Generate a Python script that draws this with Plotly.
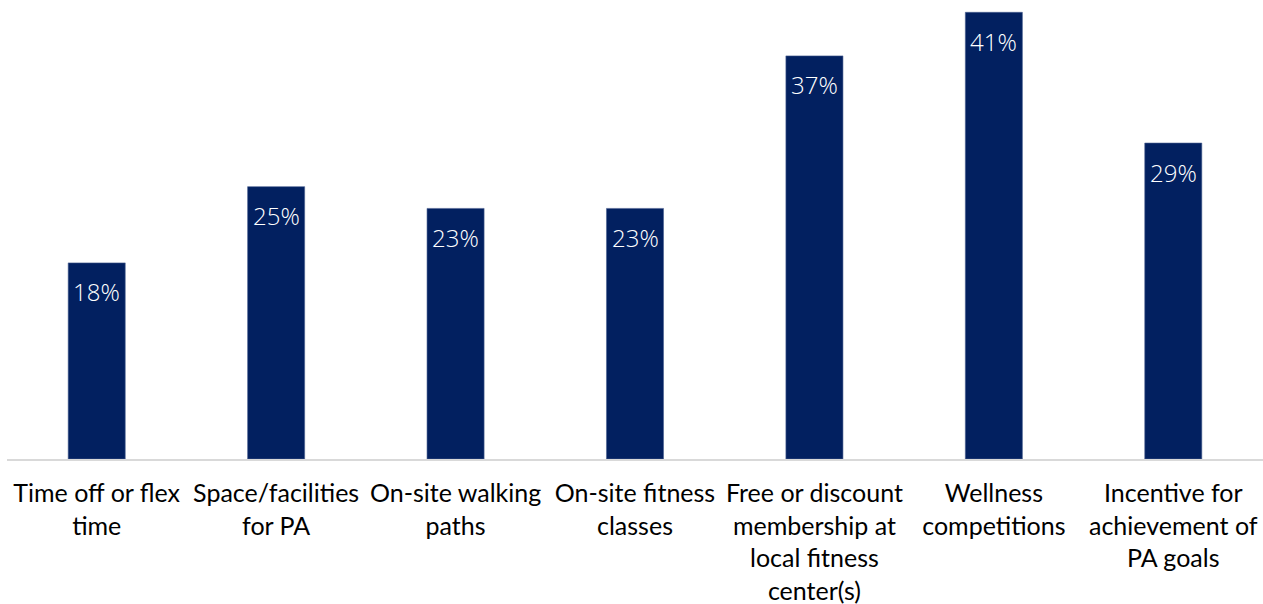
import plotly.graph_objects as go

categories = [
    "Time off or flex<br>time",
    "Space/facilities<br>for PA",
    "On-site walking<br>paths",
    "On-site fitness<br>classes",
    "Free or discount<br>membership at<br>local fitness<br>center(s)",
    "Wellness<br>competitions",
    "Incentive for<br>achievement of<br>PA goals",
]
values = [18, 25, 23, 23, 37, 41, 29]
labels = [f"{v}%" for v in values]

BAR_COLOR = "#022060"

fig = go.Figure()
fig.add_trace(go.Bar(
    x=categories,
    y=values,
    marker=dict(color=BAR_COLOR, line=dict(color="#4a6090", width=0.6)),
    hoverinfo="skip",
))

for c, v, t in zip(categories, values, labels):
    fig.add_annotation(
        x=c, y=v, text=t, showarrow=False,
        yanchor="middle", yshift=-29,
        font=dict(family="Open Sans", size=24, color="white", weight=300),
    )

fig.update_layout(
    width=1263, height=604,
    margin=dict(l=7, r=0, t=0, b=145),
    paper_bgcolor="white",
    plot_bgcolor="white",
    bargap=0.682,
    showlegend=False,
    xaxis=dict(
        showline=True, linecolor="#d9d9d9", linewidth=2,
        ticks="", showgrid=False, zeroline=False,
        tickfont=dict(family="Lato", size=25, color="black"),
        tickangle=0,
        ticklabelstandoff=11,
    ),
    yaxis=dict(
        range=[0, 42.13], visible=False, showgrid=False, zeroline=False,
    ),
)

fig.write_html(
    "out.html",
    config={"displayModeBar": False},
    post_script="document.body.style.margin='0';document.body.style.overflow='hidden';",
)
